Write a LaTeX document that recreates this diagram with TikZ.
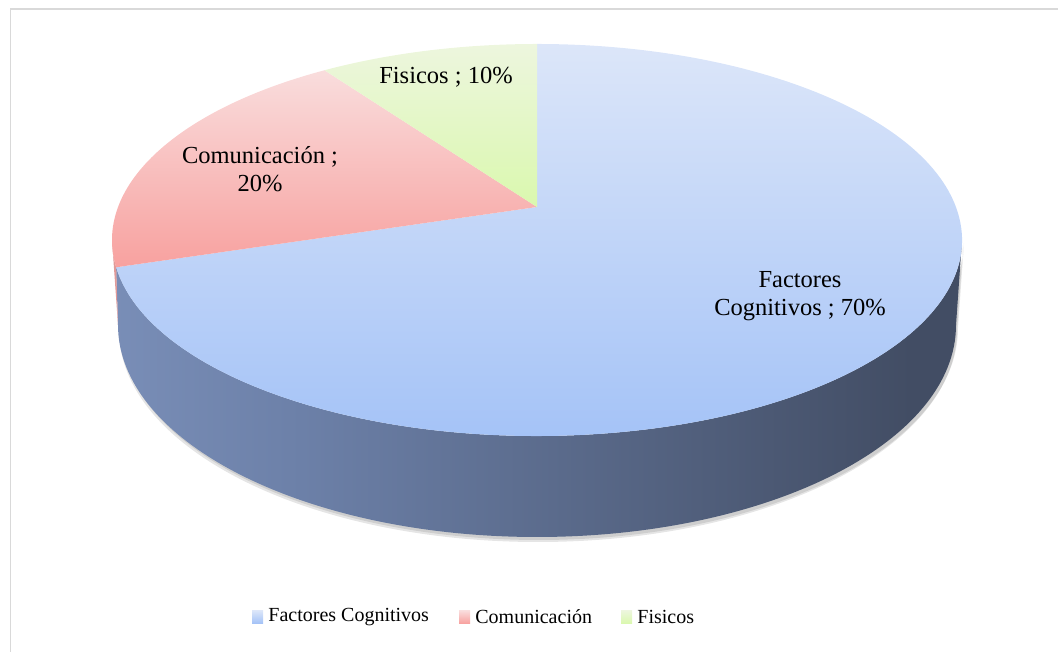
\documentclass[tikz,border=0pt]{standalone}
\usepackage{fontspec}
\setmainfont{Liberation Serif}
\usetikzlibrary{positioning}
\definecolor{btop}{RGB}{220,230,249}
\definecolor{bbot}{RGB}{163,194,247}
\definecolor{rtop}{RGB}{249,221,221}
\definecolor{rbot}{RGB}{248,161,159}
\definecolor{gtop}{RGB}{237,246,222}
\definecolor{gbot}{RGB}{218,248,174}
\definecolor{sidelight}{RGB}{150,172,216}
\definecolor{sidemid}{RGB}{108,128,168}
\definecolor{sidedark}{RGB}{66,77,100}
\definecolor{frame}{RGB}{217,217,217}
\pgfdeclarehorizontalshading{sideshade}{100bp}{color(0bp)=(sidelight); color(36bp)=(sidemid); color(72bp)=(sidedark); color(100bp)=(sidedark)}

\begin{document}
\begin{tikzpicture}[x=1pt,y=1pt]
		\tikzstyle{lbl}=[align=center,font=\fontsize{24.5}{28}\selectfont,inner sep=0pt]
		\tikzstyle{key}=[minimum width=11pt,minimum height=13pt,inner sep=0pt]
		\tikzstyle{keytext}=[font=\fontsize{20}{24}\selectfont,inner sep=0pt]

		\useasboundingbox (0,0) rectangle (1058,652);
		\begin{scope}
			\clip (0,0) rectangle (1058,652);
			\draw[frame,line width=1.3pt] (10.5,-20) rectangle (1080,643);
		\end{scope}

		\coordinate (ctr) at (537,445);
		\coordinate (mid) at (537,412);
		\coordinate (bot) at (537,327);

		% shadow under the side
		\fill[black,opacity=0.10] ([shift={(2,-3)}]mid) ++(180:425 and 196) arc[start angle=180,end angle=360,x radius=425,y radius=196] -- ++(-6,-85) arc[start angle=0,end angle=-180,x radius=419,y radius=212] -- cycle;
		\fill[black,opacity=0.10] ([shift={(1,-5)}]mid) ++(180:425 and 196) arc[start angle=180,end angle=360,x radius=425,y radius=196] -- ++(-6,-85) arc[start angle=0,end angle=-180,x radius=419,y radius=212] -- cycle;

		% side
		\shade[shading=sideshade] ([shift={(mid)}]188:425 and 196) arc[start angle=188,end angle=360,x radius=425,y radius=196] -- ([shift={(bot)}]0:419 and 212) arc[start angle=0,end angle=-180,x radius=419,y radius=212] -- cycle;
		\fill[rbot!80!gray] ([shift={(mid)}]180:425 and 196) arc[start angle=180,end angle=188,x radius=425,y radius=196] -- ([shift={(bot)}]180:419 and 212) -- cycle;

		% top
		\shade[top color=btop,bottom color=bbot] (ctr) -- ([shift={(mid)}]188:425 and 196) arc[start angle=188,end angle=450,x radius=425,y radius=196] -- cycle;
		\shade[top color=rtop,bottom color=rbot] (ctr) -- ([shift={(mid)}]120:425 and 196) arc[start angle=120,end angle=188,x radius=425,y radius=196] -- cycle;
		\shade[top color=gtop,bottom color=gbot] (ctr) -- ([shift={(mid)}]90:425 and 196) arc[start angle=90,end angle=120,x radius=425,y radius=196] -- cycle;

		\node[lbl] (lfis) at (446,575) {Fisicos ; 10\%};
		\node[lbl] (lcom) at (260,483) {Comunicación ;\\20\%};
		\node[lbl] (lfac) at (800,356) {Factores\\Cognitivos ; 70\%};

		% legend
		\node[key,top color=btop,bottom color=bbot] (kfac) at (257.5,35) {};
		\node[keytext,right=5pt of kfac] (tfac) {Factores Cognitivos};
		\node[key,top color=rtop,bottom color=rbot] (kcom) at (464.5,35) {};
		\node[keytext,right=5pt of kcom] (tcom) {Comunicación};
		\node[key,top color=gtop,bottom color=gbot] (kfis) at (626.5,35) {};
		\node[keytext,right=5pt of kfis] (tfis) {Fisicos};
\end{tikzpicture}
\end{document}
